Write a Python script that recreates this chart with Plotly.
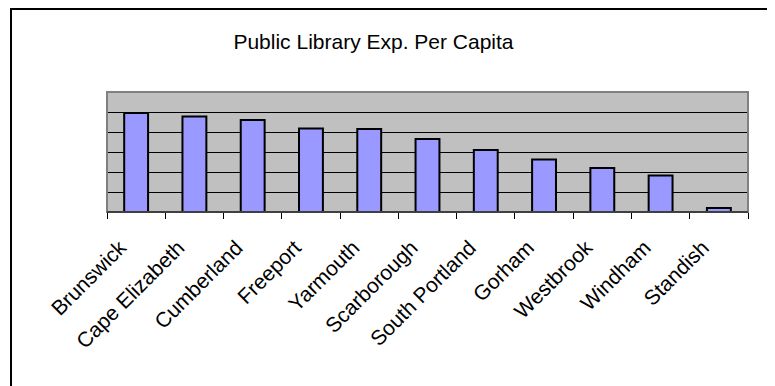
import plotly.graph_objects as go

towns = ["Brunswick", "Cape Elizabeth", "Cumberland", "Freeport", "Yarmouth",
         "Scarborough", "South Portland", "Gorham", "Westbrook", "Windham", "Standish"]
exp_per_capita = [49.5, 47.8, 46.0, 41.8, 41.5, 36.5, 31.0, 26.3, 22.0, 18.2, 2.0]
title_text = "Public Library Exp. Per Capita"

OFF = 8  # page body margin
W, H = 775 - OFF, 386 - OFF
L, R, T, B = 107 - OFF, 775 - 748, 92 - OFF, 386 - 212
pw = W - L - R
ph = H - T - B

def px_x(px):
    return (px - OFF - L) / pw

def px_y(py):
    return (H - B - (py - OFF)) / ph

fig = go.Figure()
fig.add_trace(go.Bar(
    x=towns, y=exp_per_capita,
    marker=dict(color="#9999FF", line=dict(color="#000000", width=2)),
))

fig.update_layout(
    width=W, height=H,
    margin=dict(l=L, r=R, t=T, b=B, pad=0),
    paper_bgcolor="white",
    plot_bgcolor="#C0C0C0",
    bargap=0.59,
    showlegend=False,
    font=dict(family="Liberation Sans, Arial", color="black"),
    title=dict(text=title_text, x=(373.5 - OFF) / W, xref="container", xanchor="center",
               y=1 - (42 - OFF) / H, yref="container", yanchor="middle",
               font=dict(size=21, color="black")),
    xaxis=dict(
        type="category", tickangle=-45, tickson="boundaries",
        ticks="outside", ticklen=6, tickcolor="black", tickwidth=1,
        ticklabelshift=-16, ticklabelstandoff=14,
        showline=True, linecolor="black", linewidth=1,
        showgrid=False, tickfont=dict(size=21, color="black"),
    ),
    yaxis=dict(
        range=[0, 60], dtick=10, showticklabels=False, ticks="",
        showgrid=True, gridcolor="black", gridwidth=1,
        zeroline=False, showline=False,
    ),
    shapes=[
        dict(type="rect", xref="paper", yref="paper", x0=0, y0=0, x1=1, y1=1,
             line=dict(color="#808080", width=2), layer="above"),
        dict(type="line", xref="paper", yref="paper", x0=0, y0=0, x1=1, y1=0,
             line=dict(color="black", width=1), layer="above"),
        dict(type="rect", xref="paper", yref="paper",
             x0=px_x(11), y0=px_y(420), x1=px_x(800), y1=px_y(9),
             line=dict(color="#000000", width=2), layer="above"),
    ],
)

fig.write_html("out.html")
